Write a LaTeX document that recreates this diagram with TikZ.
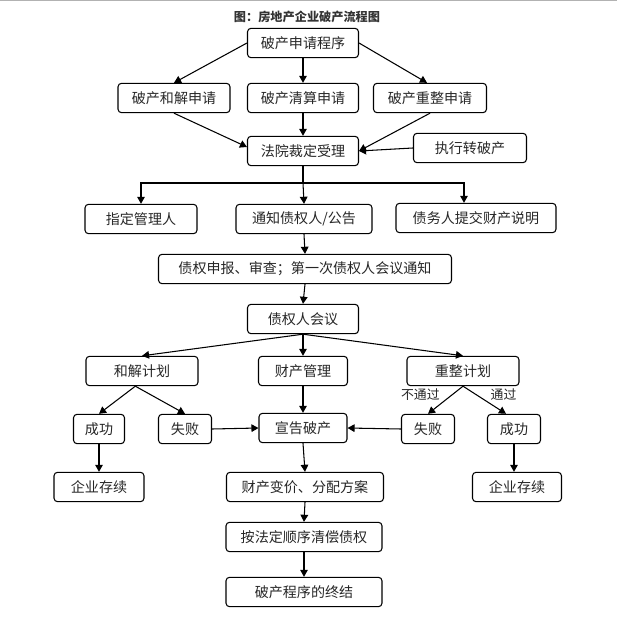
\documentclass[tikz,border=0pt]{standalone}
\usepackage{fontspec}
\setmainfont{Noto Sans CJK SC}
\usepackage{tikz}
\usetikzlibrary{arrows.meta,positioning}

\begin{document}
\begin{tikzpicture}[x=0.03cm,y=-0.03cm,
  box/.style={draw,line width=0.9pt,rounded corners=3pt,inner sep=0pt,
              minimum height=0.88cm,align=center,text=black!85,
              font=\fontsize{12}{14}\selectfont},
  arr/.style={line width=0.9pt,-{Triangle[length=6pt,width=6.5pt]}},
  lab/.style={font=\fontsize{11}{13}\selectfont,text=black!85,inner sep=1pt}
]
  \useasboundingbox (0,0) rectangle (617,620);
  \draw[black!30,line width=0.85pt] (0,0.5) -- (617,0.5);

  \node[font=\fontsize{10.4}{12}\selectfont\bfseries,text=black!80] (title) at (307,17) {图：房地产企业破产流程图};

  % application
  \node[box,minimum width=3.33cm] (apply) at (303,43) {破产申请程序};
  \node[box,minimum width=3.36cm] (settle) at (174,98) {破产和解申请};
  \node[box,minimum width=3.33cm] (liquid) at (303,98) {破产清算申请};
  \node[box,minimum width=3.39cm] (reorg) at (430,98) {破产重整申请};
  \node[box,minimum width=3.33cm] (court) at (303,151) {法院裁定受理};
  \node[box,minimum width=3.39cm] (exec) at (470,148) {执行转破产};

  % after acceptance
  \node[box,minimum width=3.36cm] (manager) at (141,219) {指定管理人};
  \node[box,minimum width=4.08cm] (notify) at (304,219) {通知债权人/公告};
  \node[box,minimum width=4.80cm] (debtor) at (476,218) {债务人提交财产说明};
  \node[box,minimum width=8.79cm] (claim) at (305,269) {债权申报、审查；第一次债权人会议通知};
  \node[box,minimum width=3.33cm] (meeting) at (303,319) {债权人会议};

  % plans
  \node[box,minimum width=3.36cm] (plansettle) at (142,371) {和解计划};
  \node[box,minimum width=2.67cm] (property) at (303,371) {财产管理};
  \node[box,minimum width=3.36cm] (planreorg) at (463,371) {重整计划};

  \node[box,minimum width=1.53cm] (okleft) at (99,429) {成功};
  \node[box,minimum width=1.59cm] (failleft) at (185,429) {失败};
  \node[box,minimum width=2.64cm] (declare) at (303,428) {宣告破产};
  \node[box,minimum width=1.59cm] (failright) at (428,429) {失败};
  \node[box,minimum width=1.59cm] (okright) at (514,429) {成功};

  \node[box,minimum width=2.70cm] (goonleft) at (99,487) {企业存续};
  \node[box,minimum width=4.71cm] (realize) at (305,487) {财产变价、分配方案};
  \node[box,minimum width=2.67cm] (goonright) at (517,487) {企业存续};

  \node[box,minimum width=4.68cm] (repay) at (304,537) {按法定顺序清偿债权};
  \node[box,minimum width=4.68cm] (finish) at (304,592) {破产程序的终结};

  \coordinate (fork) at (303,183);

  % connectors
  \draw[arr] (apply.west) -- (settle.north);
  \draw[arr] (apply.south) -- (liquid.north);
  \draw[arr] (apply.east) -- ([xshift=-0.09cm]reorg.north);
  \draw[arr] (settle.south) -- ([yshift=0.12cm]court.west);
  \draw[arr] (liquid.south) -- (court.north);
  \draw[arr] (reorg.south) -- (court.east);
  \draw[arr] (exec.west) -- (court.east);

  \draw[line width=0.9pt] (court.south) -- (fork);
  \draw[arr] (fork) -- (notify.north);
  \draw[arr] (fork) -| (manager.north);
  \draw[arr] (fork) -| ([xshift=-0.36cm]debtor.north);
  \draw[arr] (notify.south) -- (claim.north);
  \draw[arr] (claim.south) -- (meeting.north);

  \draw[arr] (meeting.south) -- (plansettle.north);
  \draw[arr] (meeting.south) -- (property.north);
  \draw[arr] (meeting.south) -- (planreorg.north);

  \draw[arr] ([xshift=-0.2cm]plansettle.south) -- (okleft.north);
  \draw[arr] ([xshift=-0.2cm]plansettle.south) -- (failleft.north);
  \draw[arr] (planreorg.south) -- node[lab,pos=0.55,above left=-1pt and 2pt] {不通过} (failright.north);
  \draw[arr] (planreorg.south) -- node[lab,pos=0.55,above right=-1pt and 2pt] {通过} ([xshift=-0.24cm]okright.north);

  \draw[arr] (failleft.east) -- (declare.west);
  \draw[arr] (property.south) -- (declare.north);
  \draw[arr] (failright.west) -- (declare.east);

  \draw[arr] (okleft.south) -- (goonleft.north);
  \draw[arr] (declare.south) -- (realize.north);
  \draw[arr] (okright.south) -- (okright.south |- goonright.north);
  \draw[arr] (realize.south) -- (repay.north);
  \draw[arr] (repay.south) -- (finish.north);
\end{tikzpicture}
\end{document}
